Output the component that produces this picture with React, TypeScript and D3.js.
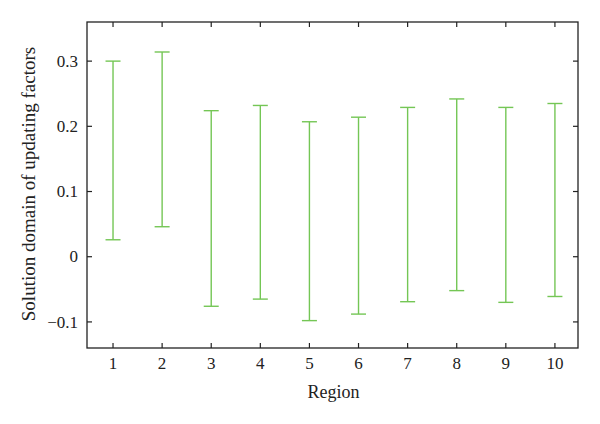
import React from "react";
import * as d3 from "d3";

const regions = [1, 2, 3, 4, 5, 6, 7, 8, 9, 10];
const upper = [0.3, 0.314, 0.224, 0.232, 0.207, 0.214, 0.229, 0.242, 0.229, 0.235];
const lower = [0.026, 0.046, -0.076, -0.065, -0.098, -0.088, -0.069, -0.052, -0.07, -0.061];
const yTicks = [-0.1, 0, 0.1, 0.2, 0.3];
const xTicks = regions;

const W = 600;
const H = 424;
const M = { left: 87, right: 22, top: 22, bottom: 76 };
const GREEN = "#74c655";
const FONT = "'Liberation Serif', 'DejaVu Serif', serif";

export default function App() {
  const x = d3.scaleLinear().domain([0.47, 10.47]).range([M.left, W - M.right]);
  const y = d3.scaleLinear().domain([-0.14, 0.36]).range([H - M.bottom, M.top]);
  const x0 = M.left, x1 = W - M.right, y0 = M.top, y1 = H - M.bottom;
  const tk = 5;
  const cap = 7.5;
  const fmt = (v: number) => (v === 0 ? "0" : v < 0 ? "\u2212" + Math.abs(v).toString() : v.toString());
  return (
    <svg width={W} height={H} style={{ position: "absolute", left: 0, top: 0, background: "#fff" }}>
      <g>
        {regions.map((r, i) => (
          <g key={r} stroke={GREEN} strokeWidth={1.4} fill="none">
            <line x1={x(r)} x2={x(r)} y1={y(upper[i])} y2={y(lower[i])} />
            <line x1={x(r) - cap} x2={x(r) + cap} y1={y(upper[i])} y2={y(upper[i])} />
            <line x1={x(r) - cap} x2={x(r) + cap} y1={y(lower[i])} y2={y(lower[i])} />
          </g>
        ))}
      </g>
      <rect x={x0} y={y0} width={x1 - x0} height={y1 - y0} fill="none" stroke="#222" strokeWidth={1.3} />
      {yTicks.map((t) => (
        <g key={"y" + t} stroke="#222" strokeWidth={1.2}>
          <line x1={x0} x2={x0 + tk} y1={y(t)} y2={y(t)} />
          <line x1={x1} x2={x1 - tk} y1={y(t)} y2={y(t)} />
        </g>
      ))}
      {xTicks.map((t) => (
        <g key={"x" + t} stroke="#222" strokeWidth={1.2}>
          <line x1={x(t)} x2={x(t)} y1={y1} y2={y1 - tk} />
          <line x1={x(t)} x2={x(t)} y1={y0} y2={y0 + tk} />
        </g>
      ))}
      {yTicks.map((t) => (
        <text key={"yl" + t} x={x0 - 9} y={y(t)} dy="0.33em" textAnchor="end" fontFamily={FONT} fontSize={17} fill="#222">
          {fmt(t)}
        </text>
      ))}
      {xTicks.map((t) => (
        <text key={"xl" + t} x={x(t)} y={368.5} textAnchor="middle" fontFamily={FONT} fontSize={17} fill="#222">
          {t}
        </text>
      ))}
      <text x={(x0 + x1) / 2 + 1} y={398} textAnchor="middle" fontFamily={FONT} fontSize={18} fill="#222">
        Region
      </text>
      <text transform={`translate(35,${184}) rotate(-90)`} textAnchor="middle" fontFamily={FONT} fontSize={19} fill="#222">
        Solution domain of updating factors
      </text>
    </svg>
  );
}
